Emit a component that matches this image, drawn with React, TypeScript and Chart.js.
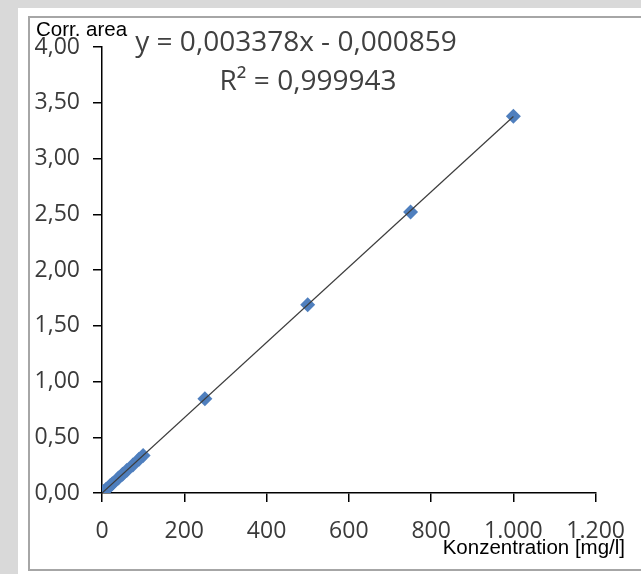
import React, { useEffect, useRef } from "react";
import { Chart, registerables } from "chart.js";

Chart.register(...registerables);

const concentrations = [1, 5, 10, 20, 25, 40, 50, 60, 75, 90, 100, 250, 500, 750, 1000];
const corrAreas = [0.003, 0.016, 0.033, 0.067, 0.084, 0.135, 0.168, 0.202, 0.252, 0.303, 0.337, 0.845, 1.689, 2.52, 3.378];
const trendX = [0, 1000];
const trendY = [-0.000859, 3.377141];
const equationText = "y = 0,003378x - 0,000859";
const r2Text = "R\u00B2 = 0,999943";
const yTitle = "Corr. area";
const xTitle = "Konzentration [mg/l]";

const fmtX = (v: number) => {
  const s = String(Math.round(v));
  return s.replace(/\B(?=(\d{3})+(?!\d))/g, ".");
};
const fmtY = (v: number) => v.toFixed(2).replace(".", ",");

const TICK_FONT = "'Open Sans', sans-serif";

export default function App() {
  const ref = useRef<HTMLCanvasElement | null>(null);
  useEffect(() => {
    document.documentElement.style.overflow = "hidden";
    document.body.style.overflow = "hidden";
    document.documentElement.style.background = "#fff";
    if (!ref.current) return;
    const labelsPlugin = {
      id: "labels",
      afterDraw(chart: any) {
        const ctx = chart.ctx as CanvasRenderingContext2D;
        ctx.save();
        ctx.textBaseline = "middle";
        ctx.fillStyle = "#000";
        ctx.font = "20.5px 'Liberation Sans', Arial, sans-serif";
        ctx.textAlign = "left";
        ctx.fillText(yTitle, 6, 12);
        ctx.textAlign = "right";
        ctx.fillText(xTitle, 595, 530);
        ctx.fillStyle = "#404040";
        ctx.font = "28px " + TICK_FONT;
        ctx.textAlign = "center";
        ctx.fillText(equationText, 266, 25);
        ctx.fillText(r2Text, 278, 64);
        ctx.restore();
      },
    };
    const chart = new Chart(ref.current, {
      type: "scatter",
      data: {
        datasets: [
          {
            type: "line",
            data: trendX.map((x, i) => ({ x, y: trendY[i] })),
            borderColor: "#3c3c3c",
            borderWidth: 1.2,
            pointRadius: 0,
            fill: false,
          } as any,
          {
            data: concentrations.map((x, i) => ({ x, y: corrAreas[i] })),
            pointStyle: "rectRot",
            pointRadius: 7.5,
            backgroundColor: "#4F7FBE",
            borderColor: "#4F7FBE",
            borderWidth: 0,
          },
        ],
      },
      options: {
        animation: false,
        responsive: false,
        layout: { padding: { top: 29, right: 43, left: 0, bottom: 0 } },
        plugins: { legend: { display: false }, tooltip: { enabled: false } },
        scales: {
          x: {
            type: "linear",
            min: 0,
            max: 1200,
            afterFit: (s: any) => {
              s.height = 76;
            },
            ticks: {
              stepSize: 200,
              callback: (v: any) => fmtX(Number(v)),
              font: { family: TICK_FONT, size: 23 },
              color: "#3a3a3a",
              padding: 16,
              maxRotation: 0,
            },
            grid: { drawOnChartArea: false, drawTicks: true, tickLength: 9, color: "#000", lineWidth: 1.5 },
            border: { display: true, color: "#000", width: 1.5 },
          },
          y: {
            type: "linear",
            min: 0,
            max: 4,
            afterFit: (s: any) => {
              s.width = 72;
            },
            ticks: {
              stepSize: 0.5,
              callback: (v: any) => fmtY(Number(v)),
              font: { family: TICK_FONT, size: 23 },
              color: "#3a3a3a",
              padding: 13,
            },
            grid: { drawOnChartArea: false, drawTicks: true, tickLength: 9, color: "#000", lineWidth: 1.5 },
            border: { display: true, color: "#000", width: 1.5 },
          },
        },
      },
      plugins: [labelsPlugin],
    } as any);
    return () => chart.destroy();
  }, []);

  return (
    <div style={{ position: "fixed", left: 0, top: 0, width: 700, height: 620, background: "#fff", overflow: "hidden" }}>
      <div style={{ position: "absolute", left: 0, top: 0, width: 18, height: 620, background: "#d9d9d9" }} />
      <div style={{ position: "absolute", left: 0, top: 0, width: 700, height: 8, background: "#d9d9d9" }} />
      <div
        style={{
          position: "absolute",
          left: 28,
          top: 16,
          width: 660,
          height: 551,
          border: "2px solid #a6a6a6",
        }}
      >
        <canvas ref={ref} width={611} height={551} style={{ display: "block", width: 611, height: 551 }} />
      </div>
    </div>
  );
}
